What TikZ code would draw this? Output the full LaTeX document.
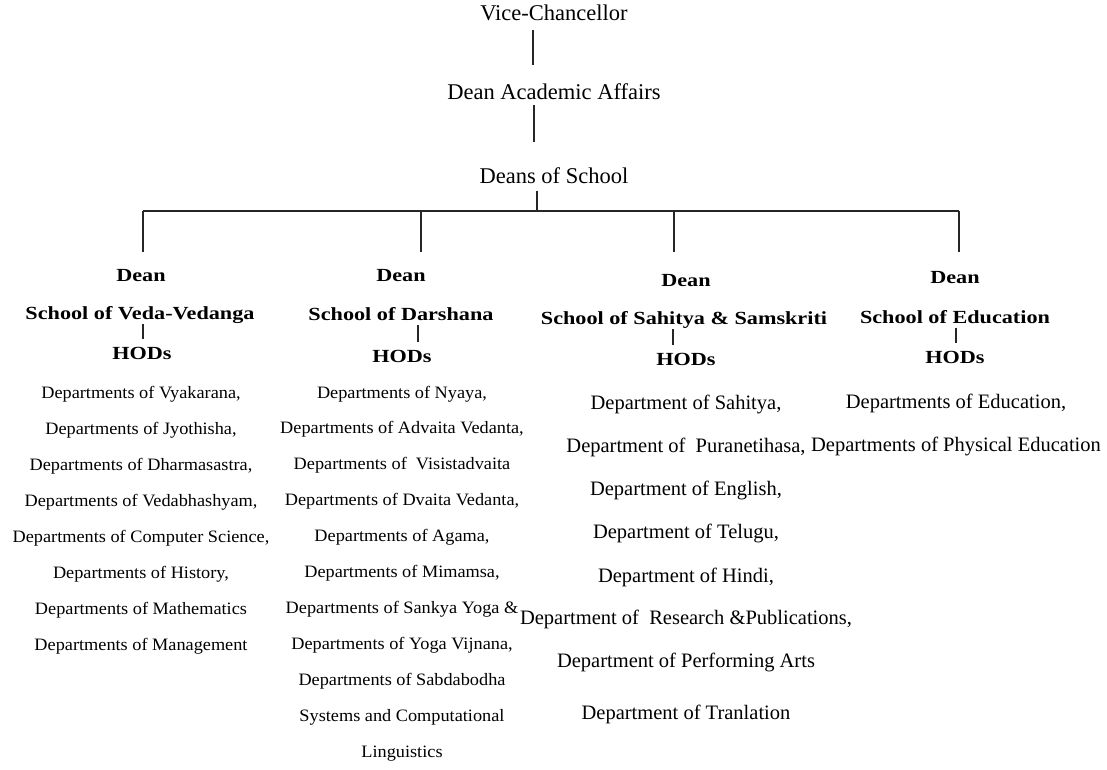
\documentclass[tikz,border=0pt]{standalone}
\usepackage{fontspec}
\setmainfont{Liberation Serif}
\newfontfamily\headfont[FakeStretch=1.2]{Liberation Serif}
\newfontfamily\deptfont[FakeStretch=1.05]{Liberation Serif}
\begin{document}
\begin{tikzpicture}[x=1pt, y=-1pt, line width=1.3pt, draw=black!85,
    every node/.style={inner sep=0pt, anchor=base},
    toptext/.style={font=\fontsize{22.5}{26}\selectfont, text height=15.7pt, text depth=5pt},
    headtext/.style={font=\headfont\bfseries\fontsize{18.5}{22}\selectfont, text height=12.8pt, text depth=4.4pt},
    depttext/.style={font=\deptfont\fontsize{17.4}{20}\selectfont},
    depttextb/.style={font=\fontsize{20.5}{24}\selectfont}]
    \useasboundingbox (0,0) rectangle (1107,769);

    \node[toptext] (vc) at (554,20) {Vice-Chancellor};
    \node[toptext] (daa) at (554,99) {Dean Academic Affairs};
    \node[toptext] (dos) at (554,183) {Deans of School};
    \coordinate (bus) at (537,211);

    \node[headtext] (deana) at (141,281) {Dean};
    \node[headtext] (schoola) at (140,319) {School of Veda-Vedanga};
    \node[headtext] (hoda) at (142,359) {HODs};
    \node[headtext] (deanb) at (401,281) {Dean};
    \node[headtext] (schoolb) at (401,320) {School of Darshana};
    \node[headtext] (hodb) at (402,362) {HODs};
    \node[headtext] (deanc) at (686,286) {Dean};
    \node[headtext] (schoolc) at (684,324) {School of Sahitya \& Samskriti};
    \node[headtext] (hodc) at (686,365) {HODs};
    \node[headtext] (deand) at (955,283) {Dean};
    \node[headtext] (schoold) at (955,323) {School of Education};
    \node[headtext] (hodd) at (955,363) {HODs};

    \draw[shorten <=4pt, shorten >=18pt] ([xshift=-21pt]vc.south) -- ([xshift=-21pt]daa.north);
    \draw[shorten >=25pt] ([xshift=-20pt]daa.south) -- ([xshift=-20pt]dos.north);
    \draw[shorten <=2pt] ([xshift=-17pt]dos.south) -- (bus);
    \draw ([xshift=2pt]deana.north |- bus) -- ([xshift=4pt]deand.north |- bus);
    \foreach \s/\dx/\gap in {a/2pt/16pt, b/20pt/16pt, c/-12pt/21pt, d/4pt/18pt}
        \draw[shorten <=\gap] ([xshift=\dx]dean\s.north) -- ([xshift=\dx]dean\s.north |- bus);
    \foreach \s/\dx in {a/1pt, b/16pt, c/-13pt, d/1pt}
        \draw[shorten <=6.5pt] ([xshift=\dx]hod\s.north) -- ([xshift=\dx]hod\s.north |- school\s.south);

    \foreach \t [count=\i] in {{Departments of Vyakarana,}, {Departments of Jyothisha,},
        {Departments of Dharmasastra,}, {Departments of Vedabhashyam,},
        {Departments of Computer Science,}, {Departments of History,},
        {Departments of Mathematics}, {Departments of Management}}
        \node[depttext] (depta\i) at (141,{398+36.1*(\i-1)}) {\t};

    \foreach \t [count=\i] in {{Departments of Nyaya,}, {Departments of Advaita Vedanta,},
        {Departments of~ Visistadvaita}, {Departments of Dvaita Vedanta,},
        {Departments of Agama,}, {Departments of Mimamsa,},
        {Departments of Sankya Yoga \&}, {Departments of Yoga Vijnana,},
        {Departments of Sabdabodha}, {Systems and Computational}, {Linguistics}}
        \node[depttext] (deptb\i) at (402,{398+35.9*(\i-1)}) {\t};

    \foreach \t/\y [count=\i] in {{Department of Sahitya,}/409, {Department of~ Puranetihasa,}/452.6,
        {Department of English,}/495, {Department of Telugu,}/538.6, {Department of Hindi,}/582,
        {Department of~ Research \&Publications,}/624.5, {Department of Performing Arts}/667,
        {Department of Tranlation}/719}
        \node[depttextb] (deptc\i) at (686,\y) {\t};

    \node[depttextb] (deptd1) at (956,408) {Departments of Education,};
    \node[depttextb] (deptd2) at (956,451.4) {Departments of Physical Education};
\end{tikzpicture}
\end{document}
